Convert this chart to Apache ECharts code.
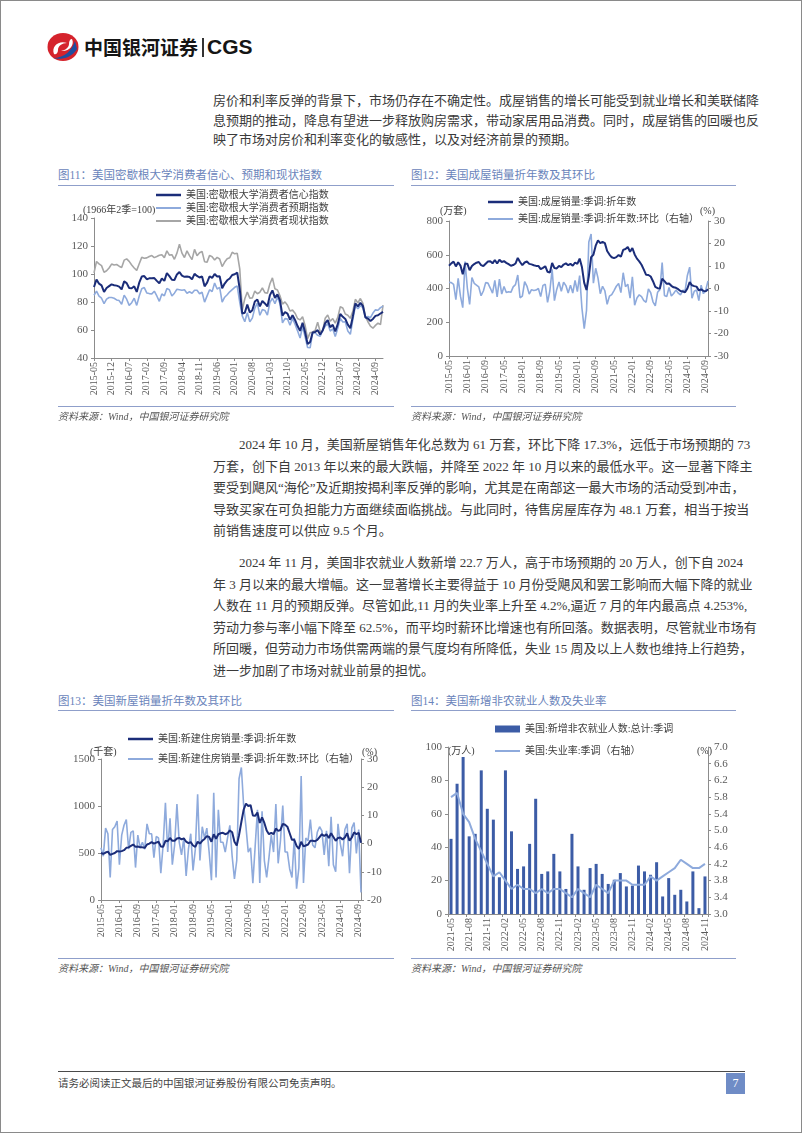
<!DOCTYPE html>
<html><head><meta charset="utf-8">
<script src="https://cdn.jsdelivr.net/npm/echarts/dist/echarts.min.js"></script>
<style>
body{margin:0;background:#fff;}
#page{position:relative;width:802px;height:1133px;border:1px solid #8a8a8a;box-sizing:border-box;background:#fff;overflow:hidden;font-family:"Liberation Serif","Noto Sans CJK SC",serif;}
.abs{position:absolute;}
.para{position:absolute;left:212px;width:530px;font-size:13px;color:#3a3a3a;}
.para div{text-align:justify;text-align-last:justify;white-space:nowrap;}
.para div.last{text-align-last:left;}
.title{position:absolute;font-size:11.5px;line-height:16px;color:#6a84bb;font-family:"Liberation Serif","Noto Sans CJK SC";white-space:nowrap;}
.rule{position:absolute;height:0;border-top:1.4px solid #8f9fca;}
.src{position:absolute;font-size:10px;line-height:14px;color:#555;font-style:italic;white-space:nowrap;}
.chart{position:absolute;}
</style></head>
<body><div id="page">
<svg class="abs" style="left:44px;top:31px" width="36" height="30" viewBox="0 0 36 30">
  <ellipse cx="18" cy="15" rx="15.5" ry="14" fill="#d5232c"/>
  <path d="M30 9 C27 18 20 26 8 26 C14 28 26 27 32 17 Z" fill="#1f4e9f"/>
  <path d="M9 22 C6 14 14 8 22 11 C17 11 13 14 13 18 C13 21 11 23 9 22 Z" fill="#fff"/>
  <path d="M27 7 C30 13 24 20 16 19 C21 18 24 15 24 12 C24 9 25 7 27 7 Z" fill="#fff"/>
</svg>
<div class="abs" style="left:83px;top:33px;font-family:'Noto Sans CJK SC';font-weight:700;font-size:19px;line-height:26px;color:#151515;">中国银河证券</div>
<div class="abs" style="left:201px;top:37px;width:1.5px;height:19px;background:#333;"></div>
<div class="abs" style="left:206px;top:32px;font-family:'Liberation Sans';font-weight:700;font-size:21px;line-height:28px;color:#151515;">CGS</div>

<div class="para" style="top:90px;line-height:19.5px;">
<div>房价和利率反弹的背景下，市场仍存在不确定性。成屋销售的增长可能受到就业增长和美联储降</div>
<div>息预期的推动，降息有望进一步释放购房需求，带动家居用品消费。同时，成屋销售的回暖也反</div>
<div class="last">映了市场对房价和利率变化的敏感性，以及对经济前景的预期。</div>
</div>

<div class="title" style="left:57px;top:166px;">图11：美国密歇根大学消费者信心、预期和现状指数</div>
<div class="rule" style="left:57px;top:184px;width:336px;"></div>
<div class="title" style="left:410px;top:166px;">图12：美国成屋销量折年数及其环比</div>
<div class="rule" style="left:410px;top:184px;width:325px;"></div>

<div id="c11" class="chart" style="left:50px;top:186px;width:350px;height:220px;"></div>
<div id="c12" class="chart" style="left:405px;top:186px;width:330px;height:220px;"></div>

<div class="rule" style="left:57px;top:405px;width:336px;"></div>
<div class="src" style="left:57px;top:409px;">资料来源：Wind，中国银河证券研究院</div>
<div class="rule" style="left:410px;top:405px;width:325px;"></div>
<div class="src" style="left:410px;top:409px;">资料来源：Wind，中国银河证券研究院</div>

<div class="para" style="top:433px;line-height:21.5px;">
<div style="text-indent:26px;">2024 年 10 月，美国新屋销售年化总数为 61 万套，环比下降 17.3%，远低于市场预期的 73</div>
<div>万套，创下自 2013 年以来的最大跌幅，并降至 2022 年 10 月以来的最低水平。这一显著下降主</div>
<div>要受到飓风“海伦”及近期按揭利率反弹的影响，尤其是在南部这一最大市场的活动受到冲击，</div>
<div>导致买家在可负担能力方面继续面临挑战。与此同时，待售房屋库存为 48.1 万套，相当于按当</div>
<div class="last">前销售速度可以供应 9.5 个月。</div>
</div>
<div class="para" style="top:551px;line-height:21.5px;">
<div style="text-indent:26px;">2024 年 11 月，美国非农就业人数新增 22.7 万人，高于市场预期的 20 万人，创下自 2024</div>
<div>年 3 月以来的最大增幅。这一显著增长主要得益于 10 月份受飓风和罢工影响而大幅下降的就业</div>
<div>人数在 11 月的预期反弹。尽管如此,11 月的失业率上升至 4.2%,逼近 7 月的年内最高点 4.253%,</div>
<div>劳动力参与率小幅下降至 62.5%，而平均时薪环比增速也有所回落。数据表明，尽管就业市场有</div>
<div>所回暖，但劳动力市场供需两端的景气度均有所降低，失业 15 周及以上人数也维持上行趋势，</div>
<div class="last">进一步加剧了市场对就业前景的担忧。</div>
</div>

<div class="title" style="left:57px;top:692px;">图13：美国新屋销量折年数及其环比</div>
<div class="rule" style="left:57px;top:709px;width:336px;"></div>
<div class="title" style="left:410px;top:692px;">图14：美国新增非农就业人数及失业率</div>
<div class="rule" style="left:410px;top:709px;width:325px;"></div>

<div id="c13" class="chart" style="left:50px;top:712px;width:350px;height:245px;"></div>
<div id="c14" class="chart" style="left:405px;top:712px;width:330px;height:245px;"></div>

<div class="rule" style="left:57px;top:957px;width:336px;"></div>
<div class="src" style="left:57px;top:961px;">资料来源：Wind，中国银河证券研究院</div>
<div class="rule" style="left:410px;top:957px;width:325px;"></div>
<div class="src" style="left:410px;top:961px;">资料来源：Wind，中国银河证券研究院</div>

<div class="abs" style="left:57px;top:1070px;width:687px;height:0;border-top:1.5px solid #4a4a4a;"></div>
<div class="abs" style="left:57px;top:1076px;font-size:10.5px;line-height:14px;color:#444;font-family:'Liberation Serif','Noto Sans CJK SC';">请务必阅读正文最后的中国银河证券股份有限公司免责声明。</div>
<div class="abs" style="left:725px;top:1072px;width:19px;height:21px;background:#6f8cc6;color:#fff;font-size:12px;line-height:21px;text-align:center;font-family:'Liberation Serif';">7</div>
</div>

<script>
// ---------- data ----------
// Chart 11: Michigan consumer sentiment, 2015-05 .. 2024-12
const sentiment = [90.7,96.1,93.1,91.9,87.2,90.0,91.3,92.6,
92.0,91.7,91.0,89.0,94.7,93.5,90.0,89.8,91.2,87.2,93.8,98.2,
98.5,96.3,96.9,97.0,97.1,95.1,93.4,96.8,95.1,100.7,98.5,95.9,
95.7,99.7,101.4,98.8,98.0,98.2,97.9,96.2,100.1,98.6,97.5,98.3,
91.2,93.8,98.4,97.2,100.0,98.2,98.4,89.8,93.2,95.5,96.8,99.3,
99.8,101.0,89.1,71.8,72.3,78.1,72.5,74.1,80.4,81.8,76.9,80.7,
79.0,76.8,84.9,88.3,82.9,85.5,81.2,70.3,72.8,71.7,67.4,70.6,
67.2,62.8,59.4,65.2,58.4,50.0,51.5,58.2,58.6,59.9,56.8,59.7,
64.9,67.0,62.0,63.7,59.0,64.2,71.5,69.4,67.9,63.8,61.3,69.7,
79.0,76.9,79.4,77.2,69.1,68.2,66.4,67.9,70.1,70.5,71.8,73.0];
const expectations = [84.8,87.8,84.2,82.7,78.9,82.1,83.2,83.2,
82.7,81.5,81.0,78.4,84.9,82.0,77.6,79.5,82.7,77.6,84.3,89.5,
90.3,86.5,86.0,85.8,87.7,84.3,80.5,85.7,84.4,89.6,88.8,84.3,
86.3,89.1,88.8,88.4,88.8,86.3,87.3,86.3,88.4,88.4,85.9,87.0,
79.9,84.4,88.8,87.4,93.5,89.3,90.5,79.9,83.4,85.2,87.3,88.9,
90.5,91.4,79.7,70.1,65.9,72.3,65.9,68.5,75.6,79.2,70.5,74.6,
74.0,70.7,79.7,82.7,78.8,83.5,79.0,65.1,68.1,67.9,63.5,68.3,
64.1,59.4,54.3,62.5,55.2,47.5,47.3,58.0,58.0,56.2,55.6,59.9,
62.7,64.7,59.2,60.9,55.4,61.3,68.3,65.7,65.9,59.3,56.9,67.4,
77.1,75.2,77.4,76.0,68.8,69.6,68.8,72.1,74.4,74.1,76.0,77.0];
const currentCond = [100.8,108.9,107.2,106.0,101.2,102.3,104.3,107.1,
106.4,106.8,105.6,104.7,109.9,110.8,109.0,106.4,104.3,102.6,107.3,111.9,
111.3,111.5,112.5,113.2,111.7,112.5,113.4,113.8,111.7,116.5,113.5,113.8,
110.5,114.9,121.2,114.9,111.8,116.5,113.1,110.3,117.6,113.1,115.2,116.1,
108.8,108.5,113.3,112.3,110.0,111.9,110.7,105.3,108.5,110.9,111.6,115.5,
114.4,114.8,103.7,74.3,82.3,87.1,82.8,82.9,87.8,85.9,87.0,90.0,
86.7,86.2,93.0,97.2,89.4,88.6,84.5,78.5,80.1,77.7,73.6,74.2,
72.0,68.2,67.2,69.4,63.3,53.8,58.1,58.6,59.7,65.6,58.8,59.4,
68.4,70.7,66.3,68.2,64.9,69.0,76.6,75.7,71.4,70.6,68.3,73.3,
81.9,79.4,82.5,79.0,69.6,65.9,62.7,61.3,63.3,64.9,63.9,77.7];

// Chart 12: existing home sales (万套) and MoM (%), 2015-05 .. 2024-10
const existingSales = [535,549,559,531,555,536,484,546,
547,508,533,545,553,557,539,533,547,560,561,549,
569,548,571,557,562,552,544,535,539,548,581,557,
538,554,560,546,543,538,534,534,515,522,532,499,
494,551,521,519,534,527,542,549,538,546,535,554,
546,577,527,433,391,472,586,600,654,685,669,676,
669,622,601,585,580,586,599,588,629,634,646,618,
640,602,577,561,541,512,481,480,471,443,409,402,
400,458,444,428,430,416,407,404,396,385,382,378,
400,438,419,414,411,389,395,386,383,396];
const existingMoM = [2.8,2.6,1.8,-5.0,4.5,-3.4,-8.5,12.0,
0.2,-7.1,4.9,2.3,1.5,0.7,-3.2,-1.1,2.6,2.4,0.2,-2.1,
3.6,-3.7,4.2,-2.5,0.9,-1.8,-1.4,-1.7,0.7,1.7,6.0,-4.1,
-3.4,3.0,1.1,-2.5,-0.5,-0.9,-0.7,0.0,-3.6,1.4,1.9,-6.2,
-1.0,8.5,-5.4,-0.4,2.9,-1.3,2.8,1.3,-2.0,1.5,-2.0,3.6,
-1.4,5.7,-8.7,-17.8,-9.7,20.7,24.2,2.4,9.0,4.7,-2.3,1.0,
-1.0,-7.0,-3.4,-2.7,-0.9,1.0,2.2,-1.8,7.0,0.8,1.9,-4.3,
5.2,-7.4,-4.2,-2.8,-3.6,-5.4,-6.1,-0.2,-1.9,-5.9,-7.7,-1.7,
-0.5,11.5,-3.1,-3.6,0.5,-3.3,-2.2,-0.7,-2.0,-2.8,-0.8,-1.0,
5.8,9.5,-4.3,-1.2,-0.7,-5.4,1.5,-2.3,-0.8,3.4];

// Chart 13: new home sales (千套) and MoM (%), 2015-05 .. 2024-10
const newSales = [500,490,505,515,480,490,500,520,
515,520,530,555,560,575,590,565,570,560,560,555,
590,600,615,600,610,620,570,565,630,625,660,630,
630,655,660,645,655,620,605,615,580,565,620,600,
630,650,680,670,620,700,650,700,710,715,700,710,
740,720,620,580,690,830,960,1025,1000,1010,900,895,
930,820,880,820,740,700,715,700,760,735,745,810,
800,780,710,640,640,575,545,620,570,580,590,630,
630,625,640,670,700,680,700,660,710,670,630,660,
665,645,665,710,630,665,720,700,715,610];
const newMoM = [-1.5,-4.5,5.5,3.5,-12,5,6,8,
-7.5,3,6.5,8.5,-2,4,4.5,-8.5,3,-1.5,0.5,-2,
7,3.5,3.5,-5,2.5,2,-10.5,-0.5,14.5,-3,9,-7.5,
-0.5,14,0.5,-4,2,-11.5,-2,3.5,-9.5,-2,17.5,-6,
6,2,5.5,-3,-13,18,-12,12,0.5,0.5,-3,2,
6.5,-4.5,-12.5,-6,23,27,13.5,6,-3,-1.5,-14,-1,
12,-14,11.5,-6,-12,-5,3,-3,14,-7,1,13.5,
-3,-3,-9,-12,2,-16,-8.5,24,-14,2,1,8.5,
-0.5,-1.5,4,6,4.5,-4,4.5,-8,9.5,-7.5,-10,7,
0,-4.5,5,7,-10.5,5.5,7.5,-3.5,5,-17.3];

// Chart 14: nonfarm payrolls (万人) and unemployment rate (%), 2021-05 .. 2024-11
const payrolls = [45,78,94,46.5,48,86,63,56.5,22,86,49.5,27,28.5,42,69,24,25.5,36,25.5,15,
48,28.5,14.5,27.5,30,24,18,20.5,24.5,16.5,17,29,25.5,23.5,31,10.5,21.5,11.5,14.5,7.5,25.5,3.5,22.5];
const unemployment = [5.8,5.9,5.4,5.2,4.8,4.5,4.2,3.9,4.0,3.8,3.6,3.7,3.6,3.6,3.5,3.6,3.5,3.6,3.6,3.5,
3.4,3.6,3.5,3.4,3.7,3.6,3.5,3.8,3.8,3.8,3.7,3.7,3.7,3.9,3.8,3.9,4.0,4.1,4.3,4.2,4.1,4.1,4.2];

const names11 = ['美国:密歇根大学消费者信心指数','美国:密歇根大学消费者预期指数','美国:密歇根大学消费者现状指数'];
const names12 = ['美国:成屋销量:季调:折年数','美国:成屋销量:季调:折年数:环比（右轴）'];
const names13 = ['美国:新建住房销量:季调:折年数','美国:新建住房销量:季调:折年数:环比（右轴）'];
const names14 = ['美国:新增非农就业人数:总计:季调','美国:失业率:季调（右轴）'];

function monthList(y0, m0, n){
  const a = [];
  for (let i = 0; i < n; i++){
    const t = y0*12 + (m0-1) + i;
    a.push(Math.floor(t/12) + '-' + String(t%12 + 1).padStart(2,'0'));
  }
  return a;
}
const months11 = monthList(2015,5,sentiment.length);
const months12 = monthList(2015,5,existingSales.length);
const months13 = monthList(2015,5,newSales.length);
const months14 = monthList(2021,5,payrolls.length);

// ---------- styling helpers ----------
const FONT = '"Liberation Serif","Noto Sans CJK SC",serif';
const AXC = '#8c8c8c', LBL = '#595959', LEG = '#404040';
const NAVY = '#1b2d79', LIGHT = '#8eaadc', GRAY = '#a6a6a6', BAR = '#3c5ca6';
const plain = function(v){ return String(v); };

function xCat(cats, interval, gap){
  return {type:'category', data:cats, boundaryGap:gap,
    axisLine:{onZero:false, lineStyle:{color:AXC, width:1}},
    axisTick:{show:true, interval:interval, length:3, lineStyle:{color:AXC}},
    axisLabel:{interval:interval, rotate:90, fontSize:10, color:LBL, fontFamily:FONT, margin:4}};
}
function yVal(min, max, interval, pos, fmt){
  return {type:'value', min:min, max:max, interval:interval, position:pos,
    axisLine:{show:true, onZero:false, lineStyle:{color:AXC, width:1}},
    axisTick:{show:true, length:3, lineStyle:{color:AXC}},
    splitLine:{show:false},
    axisLabel:{fontSize:11, color:LBL, fontFamily:FONT, margin:6, formatter:fmt || plain}};
}
function leg(name, left, top, icon, w, h){
  return {data:[{name:name, icon:icon || 'rect'}], left:left, top:top, padding:0,
    itemWidth:w || 25, itemHeight:h || 2.5, itemGap:0, selectedMode:false,
    textStyle:{fontSize:10, color:LEG, fontFamily:FONT, lineHeight:12}};
}
function unitText(text, x, y){
  return {type:'text', left:x, top:y - 6, silent:true,
    style:{text:text, fill:LEG, font:'10px ' + FONT}};
}
function line(name, data, color, width, yIdx, z){
  return {type:'line', name:name, data:data, yAxisIndex:yIdx || 0, symbol:'none', color:color,
    lineStyle:{color:color, width:width}, z:z || 2, animation:false};
}

// ---------- chart 11 ----------
echarts.init(document.getElementById('c11')).setOption({
  animation:false,
  grid:{left:43, right:18, top:31, bottom:49},
  legend:[leg(names11[0],105,2,'rect',25,2.5), leg(names11[1],105,15,'rect',25,2), leg(names11[2],105,28,'rect',25,2)],
  graphic:[unitText('(1966年2季=100)', 32, 24)],
  xAxis:xCat(months11, 6, false),
  yAxis:yVal(40, 140, 20, 'left'),
  series:[line(names11[0], sentiment, NAVY, 2, 0, 4), line(names11[1], expectations, LIGHT, 1.6, 0, 3), line(names11[2], currentCond, GRAY, 1.6, 0, 2)]
});

// ---------- chart 12 ----------
echarts.init(document.getElementById('c12')).setOption({
  animation:false,
  grid:{left:43, right:28, top:34, bottom:51},
  legend:[leg(names12[0],82,9,'rect',25,2.5), leg(names12[1],82,26,'rect',25,2)],
  graphic:[unitText('(万套)', 34, 25), unitText('(%)', 294, 25)],
  xAxis:xCat(months12, 7, false),
  yAxis:[yVal(0, 800, 200, 'left'), yVal(-30, 30, 10, 'right')],
  series:[line(names12[0], existingSales, NAVY, 2, 0, 4), line(names12[1], existingMoM, LIGHT, 1.6, 1, 3)]
});

// ---------- chart 13 ----------
echarts.init(document.getElementById('c13')).setOption({
  animation:false,
  grid:{left:50, right:40, top:46, bottom:58},
  legend:[leg(names13[0],77,20,'rect',25,2.5), leg(names13[1],77,40,'rect',25,2)],
  graphic:[unitText('(千套)', 39, 40), unitText('(%)', 311, 40)],
  xAxis:xCat(months13, 7, false),
  yAxis:[yVal(0, 1500, 500, 'left'), yVal(-20, 30, 10, 'right')],
  series:[line(names13[0], newSales, NAVY, 2, 0, 4), line(names13[1], newMoM, LIGHT, 1.6, 1, 3)]
});

// ---------- chart 14 ----------
echarts.init(document.getElementById('c14')).setOption({
  animation:false,
  grid:{left:42, right:28, top:34, bottom:44},
  legend:[leg(names14[0],89,10,'rect',25,7), leg(names14[1],89,32,'rect',25,2)],
  graphic:[unitText('(万人)', 42, 39), unitText('(%)', 291, 39)],
  xAxis:xCat(months14, 2, true),
  yAxis:[yVal(0, 100, 20, 'left'), yVal(3.0, 7.0, 0.4, 'right', function(v){return v.toFixed(1);})],
  series:[
    {type:'bar', name:names14[0], data:payrolls, barWidth:3, color:BAR, itemStyle:{color:BAR}, z:2, animation:false},
    line(names14[1], unemployment, LIGHT, 2, 1, 4)
  ]
});
</script>
</body></html>
